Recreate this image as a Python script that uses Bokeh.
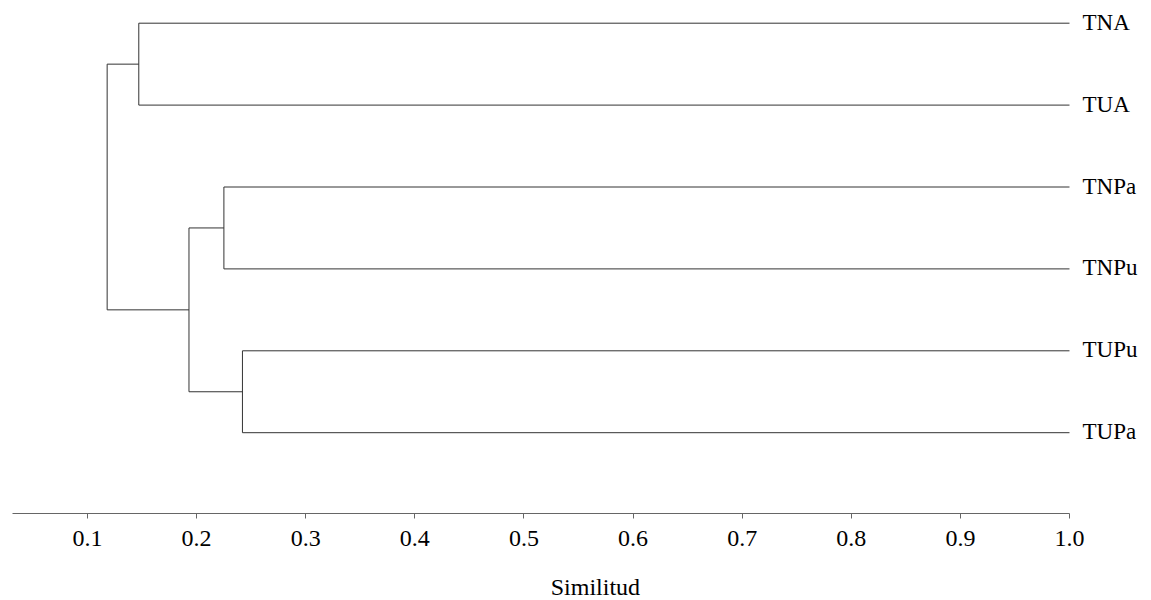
from bokeh.plotting import figure
from bokeh.models import Range1d, FixedTicker, ColumnDataSource
from bokeh.core.properties import value
from bokeh.embed import file_html
from bokeh.resources import INLINE

# ---- data ----
leaves = ["TNA", "TUA", "TNPa", "TNPu", "TUPu", "TUPa"]
# merges: (child_a, child_b, similarity); indices >= len(leaves) refer to earlier merges
merge_a = [0, 2, 4, 7, 6]
merge_b = [1, 3, 5, 8, 9]
merge_sim = [0.147, 0.225, 0.242, 0.193, 0.118]
tick_values = [0.1, 0.2, 0.3, 0.4, 0.5, 0.6, 0.7, 0.8, 0.9, 1.0]
tick_labels = ["0.1", "0.2", "0.3", "0.4", "0.5", "0.6", "0.7", "0.8", "0.9", "1.0"]
axis_title = "Similitud"
leaf_sim = 1.0

# ---- layout of the tree ----
n = len(leaves)
ypos = {i: float(n - i) for i in range(n)}
xpos = {i: leaf_sim for i in range(n)}
x0s, y0s, x1s, y1s = [], [], [], []
for k, (a, b, s) in enumerate(zip(merge_a, merge_b, merge_sim)):
    node = n + k
    ya, yb = ypos[a], ypos[b]
    x0s.append(s); y0s.append(ya); x1s.append(s); y1s.append(yb)
    x0s.append(s); y0s.append(ya); x1s.append(xpos[a]); y1s.append(ya)
    x0s.append(s); y0s.append(yb); x1s.append(xpos[b]); y1s.append(yb)
    ypos[node] = (ya + yb) / 2
    xpos[node] = s

FONT = "Liberation Serif"
FW, FH = 1143, 600
px_per_x = 1091.1
x_start = 0.02026
x_end = x_start + FW / px_per_x
px_per_y = 81.9
y_end = 6.2772
y_start = y_end - FH / px_per_y
axis_y = 0.01          # where the similarity axis sits (below the last leaf)
title_y = -0.878       # vertical middle of the axis title

p = figure(frame_width=FW, frame_height=FH, output_backend="svg", toolbar_location=None,
           x_range=Range1d(x_start, x_end), y_range=Range1d(y_start, y_end),
           min_border_left=0, min_border_right=0, min_border_top=0, min_border_bottom=0)
p.outline_line_color = None
p.grid.visible = False
p.yaxis.visible = False

seg = ColumnDataSource(dict(x0=x0s, y0=y0s, x1=x1s, y1=y1s))
p.segment("x0", "y0", "x1", "y1", source=seg, line_color="#333333", line_width=1)

lab = ColumnDataSource(dict(x=[leaf_sim] * n, y=[ypos[i] for i in range(n)], t=leaves))
p.text("x", "y", text="t", source=lab, x_offset=13, y_offset=-1, text_baseline="middle",
       text_align="left", text_font=value(FONT), text_font_size="23px", text_color="black")

ax = p.xaxis[0]
ax.fixed_location = axis_y
ax.bounds = (0.031, 1.0)
ax.ticker = FixedTicker(ticks=tick_values)
ax.major_label_overrides = {v: l for v, l in zip(tick_values, tick_labels)}
ax.minor_tick_line_color = None
ax.major_tick_in = 0
ax.major_tick_out = 5
ax.major_label_standoff = 12
ax.axis_line_color = "#666666"
ax.major_tick_line_color = "#666666"
ax.major_label_text_font = FONT
ax.major_label_text_font_size = "24px"
ax.major_label_text_color = "black"

ttl = ColumnDataSource(dict(x=[(0.031 + 1.0) / 2 + 0.05], y=[title_y], t=[axis_title]))
p.text("x", "y", text="t", source=ttl, text_align="center", text_baseline="middle",
       text_font=value(FONT), text_font_size="24px", text_color="black")

open("out.html", "w").write(file_html(p, INLINE))
